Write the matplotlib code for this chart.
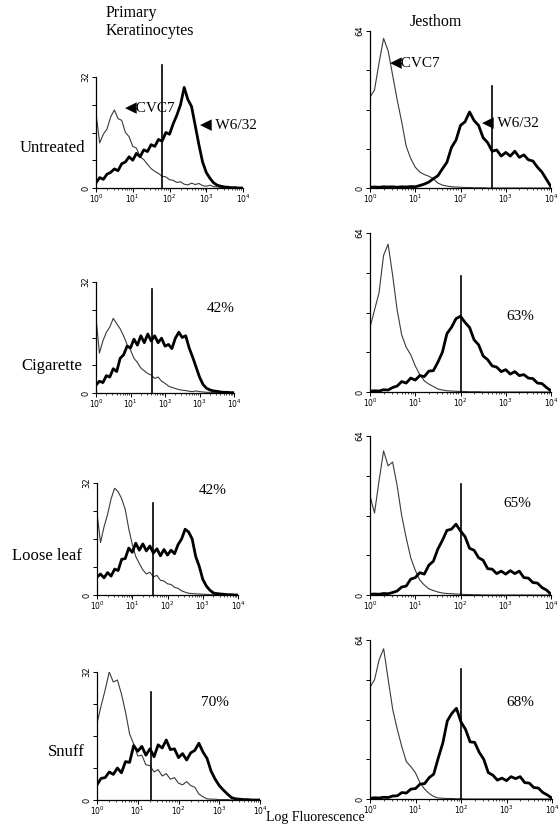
import numpy as np
import matplotlib
matplotlib.use("Agg")
import matplotlib.pyplot as plt
from matplotlib.ticker import FixedLocator, LogLocator, NullFormatter, LogFormatterMathtext

W, H = 559, 825
SERIF = ["Liberation Serif", "DejaVu Serif"]
ARROW_FONT = ["Liberation Serif", "DejaVu Sans"]

# channel positions (log10 of fluorescence), 0.1 decade bins
LOG_BINS = np.linspace(0, 4, 41)

ROWS = ["Untreated", "Cigarette", "Loose leaf", "Snuff"]
COLS = ["Primary\nKeratinocytes", "Jesthom"]
YMAX = [32, 64]

# ---- primary keratinocytes (counts, 0-32) ----
ker_cvc7_untreated = [21.5, 13.0, 15.5, 17.0, 20.5, 22.5, 20.0, 19.5, 16.0, 14.8, 12.0, 11.5, 9.0, 8.2,
                      6.8, 5.6, 4.8, 4.2, 3.4, 3.2, 2.4, 2.2, 1.6, 1.8, 1.1, 0.9, 1.4, 1.0, 1.3, 0.7,
                      0.5, 0.8, 0.4, 0.3, 0.2, 0.2, 0.1, 0.1, 0.1, 0.0, 0.0]
ker_w632_untreated = [1.5, 3.0, 2.5, 4.0, 4.5, 5.5, 5.0, 7.0, 7.5, 9.0, 8.0, 10.0, 9.0, 11.0, 10.5,
                      12.5, 12.0, 14.0, 13.5, 16.0, 15.5, 18.5, 21.0, 24.0, 29.0, 25.5, 23.5, 18.0,
                      12.5, 7.5, 4.5, 2.8, 1.5, 0.8, 0.5, 0.3, 0.2, 0.1, 0.1, 0.0, 0.0]
ker_cvc7_cigarette = [21.5, 11.5, 15.0, 17.5, 19.0, 21.5, 20.0, 18.5, 16.5, 14.0, 12.4, 10.0, 8.8, 7.2,
                      6.4, 5.6, 5.2, 4.2, 4.6, 3.4, 2.8, 2.0, 1.6, 1.3, 1.0, 0.8, 0.7, 0.5, 0.4, 0.6,
                      0.4, 0.3, 0.2, 0.2, 0.1, 0.1, 0.1, 0.0, 0.0, 0.0, 0.0]
ker_w632_cigarette = [2.3, 3.4, 3.0, 5.0, 4.6, 7.0, 6.2, 10.0, 11.0, 13.5, 13.0, 15.5, 13.8, 16.5, 14.5,
                      17.0, 15.0, 16.5, 14.5, 15.8, 13.5, 14.0, 12.8, 15.8, 17.5, 16.0, 16.5, 13.0,
                      10.4, 7.5, 4.6, 2.5, 1.4, 0.9, 0.6, 0.5, 0.3, 0.2, 0.2, 0.1, 0.1]
ker_cvc7_looseleaf = [23.4, 15.0, 19.5, 23.0, 27.5, 30.5, 29.5, 27.5, 24.5, 19.0, 14.5, 11.0, 9.0, 7.2,
                      6.0, 6.5, 5.2, 5.6, 4.2, 4.0, 3.2, 3.0, 2.2, 1.9, 1.2, 0.8, 0.5, 0.4, 0.3, 0.3,
                      0.2, 0.2, 0.1, 0.1, 0.1, 0.0, 0.0, 0.0, 0.0, 0.0, 0.0]
ker_w632_looseleaf = [5.1, 6.0, 4.9, 6.4, 5.4, 7.4, 7.0, 10.2, 10.4, 13.4, 12.2, 14.8, 12.8, 14.6, 12.6,
                      14.0, 12.0, 13.2, 11.2, 13.0, 11.4, 12.8, 11.8, 14.4, 16.0, 18.8, 18.0, 16.0,
                      11.0, 8.2, 4.5, 2.6, 1.4, 0.6, 0.4, 0.3, 0.2, 0.1, 0.1, 0.0, 0.0]
ker_cvc7_snuff = [19.2, 23.5, 27.5, 32.0, 29.5, 30.0, 26.5, 22.0, 16.5, 14.0, 11.0, 11.2, 8.8, 8.6,
                  7.0, 7.6, 6.0, 6.6, 5.2, 5.6, 4.2, 3.8, 4.6, 3.6, 3.2, 1.5, 0.8, 0.3, 0.2, 0.2,
                  0.1, 0.1, 0.1, 0.0, 0.0, 0.0, 0.0, 0.0, 0.0, 0.0, 0.0]
ker_w632_snuff = [3.8, 5.4, 5.6, 7.0, 6.4, 8.0, 6.8, 9.6, 9.4, 13.6, 12.2, 13.4, 11.2, 12.8, 10.8,
                  13.8, 13.0, 15.0, 12.6, 12.8, 10.6, 11.6, 10.0, 11.8, 12.4, 14.2, 12.0, 10.4,
                  7.2, 5.2, 3.6, 2.5, 1.5, 0.6, 0.3, 0.2, 0.1, 0.1, 0.0, 0.0, 0.0]

# ---- Jesthom (counts, 0-64) ----
jes_cvc7_untreated = [37.0, 40.0, 51.0, 61.0, 56.0, 46.0, 36.0, 27.0, 17.0, 12.0, 8.5, 6.5, 5.5, 4.8,
                      3.8, 2.0, 1.2, 0.8, 0.5, 0.4, 0.3, 0.2, 0.2, 0.1, 0.1, 0.1, 0, 0, 0, 0, 0, 0,
                      0, 0, 0, 0, 0, 0, 0, 0, 0]
jes_w632_untreated = [0.3, 0.4, 0.3, 0.5, 0.4, 0.5, 0.3, 0.5, 0.4, 0.6, 0.5, 1.0, 1.6, 2.4, 3.8, 5.0,
                      7.8, 10.5, 16.5, 19.5, 25.5, 27.0, 31.0, 27.5, 25.5, 20.5, 18.5, 15.0, 15.5,
                      13.0, 14.5, 13.0, 15.0, 12.5, 13.5, 11.5, 11.0, 8.5, 6.5, 3.5, 0.5]
jes_cvc7_cigarette = [26.0, 33.0, 40.0, 55.0, 59.5, 47.0, 33.0, 23.0, 18.0, 15.0, 10.5, 7.0, 4.5, 3.2,
                      2.2, 1.2, 0.8, 0.5, 0.4, 0.3, 0.2, 0.2, 0.1, 0.1, 0.1, 0, 0, 0, 0, 0, 0, 0,
                      0, 0, 0, 0, 0, 0, 0, 0, 0]
jes_w632_cigarette = [0.3, 0.5, 0.4, 0.9, 0.8, 1.8, 2.4, 4.2, 3.6, 5.6, 4.8, 6.6, 6.2, 8.4, 8.6, 12.0,
                      16.0, 23.5, 26.0, 29.5, 30.5, 28.0, 26.0, 21.0, 19.0, 14.5, 13.0, 10.5, 10.0,
                      8.2, 9.0, 7.2, 8.2, 6.6, 7.0, 5.6, 5.4, 3.6, 3.4, 1.8, 0.5]
jes_cvc7_looseleaf = [40.0, 33.0, 46.0, 58.0, 52.0, 53.5, 44.0, 32.0, 23.0, 15.0, 10.0, 6.0, 4.0, 2.5,
                      1.8, 1.2, 0.8, 0.6, 0.5, 0.4, 0.3, 0.2, 0.2, 0.1, 0.1, 0, 0, 0, 0, 0, 0, 0,
                      0, 0, 0, 0, 0, 0, 0, 0, 0]
jes_w632_looseleaf = [0.3, 0.4, 0.3, 0.6, 0.5, 1.0, 1.6, 3.2, 3.6, 6.4, 7.0, 9.0, 8.4, 12.0, 13.6,
                      18.5, 22.0, 26.0, 26.5, 28.5, 25.8, 23.5, 18.8, 18.0, 15.0, 14.0, 10.6, 10.4,
                      8.6, 9.6, 8.4, 9.8, 8.6, 9.6, 7.0, 6.8, 5.0, 4.8, 3.0, 2.0, 0.3]
jes_cvc7_snuff = [45.0, 48.0, 56.0, 60.5, 48.0, 36.0, 28.0, 21.0, 15.0, 13.0, 10.5, 6.5, 4.0, 2.2,
                  1.0, 0.4, 0.3, 0.2, 0.2, 0.1, 0.1, 0, 0, 0, 0, 0, 0, 0, 0, 0, 0, 0, 0, 0, 0, 0,
                  0, 0, 0, 0, 0]
jes_w632_snuff = [0.3, 0.5, 0.4, 0.7, 0.6, 1.2, 1.3, 2.6, 2.4, 4.0, 4.2, 6.0, 6.2, 8.6, 10.0, 16.5,
                  22.5, 31.5, 34.5, 36.5, 31.0, 28.0, 23.0, 22.8, 18.8, 16.0, 10.6, 9.6, 7.6, 8.4,
                  7.4, 9.0, 8.2, 9.0, 6.6, 6.4, 4.6, 4.4, 2.6, 1.6, 0.3]

CVC7 = [[ker_cvc7_untreated, jes_cvc7_untreated], [ker_cvc7_cigarette, jes_cvc7_cigarette],
        [ker_cvc7_looseleaf, jes_cvc7_looseleaf], [ker_cvc7_snuff, jes_cvc7_snuff]]
W632 = [[ker_w632_untreated, jes_w632_untreated], [ker_w632_cigarette, jes_w632_cigarette],
        [ker_w632_looseleaf, jes_w632_looseleaf], [ker_w632_snuff, jes_w632_snuff]]

# gate marker: position (log10) and height (counts)
GATE_LOG = [[1.80, 2.70], [1.62, 2.00], [1.59, 2.00], [1.33, 2.00]]
GATE_TOP = [[35.4, 41.6], [30.0, 46.8], [26.3, 44.8], [27.0, 52.4]]
PERCENT = [[None, None], ["42%", "63%"], ["42%", "65%"], ["70%", "68%"]]

# ---- layout (pixels: left, right, top, bottom) ----
BOXES = [[(96, 243, 77, 188), (370, 551, 31, 188)],
         [(96, 234, 282, 393), (370, 551, 233, 392)],
         [(97, 238, 483, 595), (370, 551, 436, 595)],
         [(97, 260, 672, 800), (370, 552, 640, 799)]]
PCT_POS = [[None, None], [(221, 309), (520, 317)], [(213, 490), (517, 503)], [(215, 703), (520, 702)]]
ROW_LABEL_POS = [(85, 148), (82, 366), (82, 556), (85, 752)]


def fx(x):
    return x / W


def fy(y):
    return 1 - y / H


fig = plt.figure(figsize=(W / 100, H / 100), dpi=100)
fig.patch.set_facecolor("white")

x_vals = 10 ** LOG_BINS

for r in range(4):
    for c in range(2):
        l, rgt, t, b = BOXES[r][c]
        ax = fig.add_axes([fx(l), fy(b), (rgt - l) / W, (b - t) / H])
        ymax = YMAX[c]
        ax.plot(x_vals, CVC7[r][c], color="#3a3a3a", lw=0.8, zorder=2)
        ax.plot(x_vals, W632[r][c], color="black", lw=2.0, zorder=3)
        g = 10 ** GATE_LOG[r][c]
        ax.plot([g, g], [0, GATE_TOP[r][c]], color="black", lw=1.2, clip_on=False, zorder=4)

        ax.set_xscale("log")
        ax.set_xlim(1, 1e4)
        ax.set_ylim(0, ymax)
        for s in ["top", "right"]:
            ax.spines[s].set_visible(False)
        for s in ["left", "bottom"]:
            ax.spines[s].set_linewidth(0.9)
        ax.xaxis.set_major_locator(LogLocator(base=10, numticks=6))
        ax.xaxis.set_major_formatter(LogFormatterMathtext())
        ax.xaxis.set_minor_locator(LogLocator(base=10, subs=np.arange(2, 10), numticks=20))
        ax.xaxis.set_minor_formatter(NullFormatter())
        ax.tick_params(axis="x", which="major", length=3, width=0.7, labelsize=5.5, pad=0.5)
        ax.tick_params(axis="x", which="minor", length=1.5, width=0.5)
        step = ymax // 4
        ax.yaxis.set_major_locator(FixedLocator([0, step, 2 * step, 3 * step, ymax]))
        ax.set_yticklabels(["0", "", "", "", str(ymax)])
        ax.tick_params(axis="y", length=3, width=0.7, labelsize=6, pad=1, labelrotation=90)
        for lab in ax.get_yticklabels():
            lab.set_va("center")

        if PERCENT[r][c]:
            px, py = PCT_POS[r][c]
            fig.text(fx(px), fy(py), PERCENT[r][c], ha="center", va="center",
                     fontsize=11, family=SERIF)

for (px, py), name in zip(ROW_LABEL_POS, ROWS):
    fig.text(fx(px), fy(py), name, ha="right", va="center", fontsize=12, family=SERIF)

fig.text(fx(106), fy(22), COLS[0], ha="left", va="center", fontsize=11.5,
         family=SERIF, linespacing=1.15)
fig.text(fx(436), fy(22), COLS[1], ha="center", va="center", fontsize=11.5, family=SERIF)

fig.text(fx(125), fy(108), "\u25c0CVC7", ha="left", va="center", fontsize=11, family=ARROW_FONT)
fig.text(fx(200), fy(125), "\u25c0 W6/32", ha="left", va="center", fontsize=11, family=ARROW_FONT)
fig.text(fx(390), fy(63), "\u25c0CVC7", ha="left", va="center", fontsize=11, family=ARROW_FONT)
fig.text(fx(482), fy(123), "\u25c0 W6/32", ha="left", va="center", fontsize=11, family=ARROW_FONT)

# axis caption sits just under the bottom row, between the two panels
fig.text(fx(315), fy(821.5), "Log Fluorescence", ha="center", va="baseline",
         fontsize=10, family=SERIF)

fig.savefig("out.png", dpi=100)
